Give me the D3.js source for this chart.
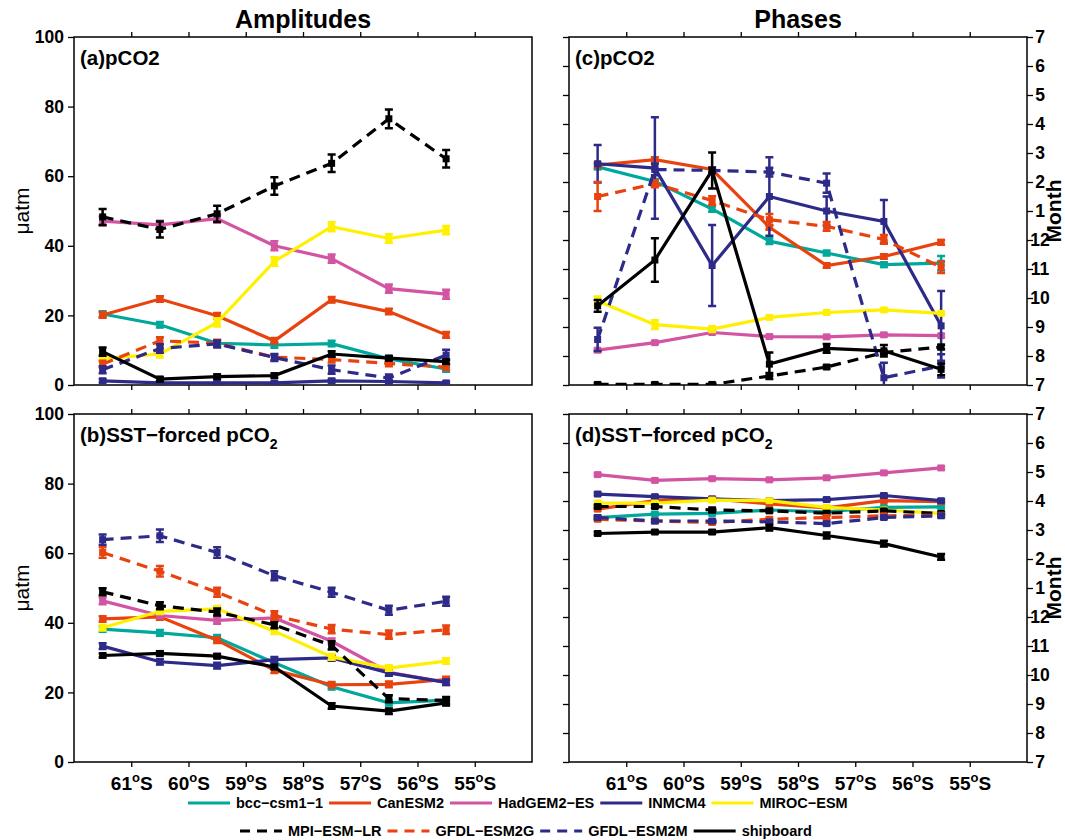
<!DOCTYPE html>
<html>
<head>
<meta charset="utf-8">
<script src="https://cdn.jsdelivr.net/npm/d3@7/dist/d3.min.js"></script>
<style>
  body { margin: 0; background: #fff; }
  svg { font-family: "Liberation Sans", Arial, sans-serif; }
</style>
</head>
<body>
<svg id="chart" width="1065" height="840"></svg>
<script>
// latitude of each band centre (degrees south)
var lats = [61.5, 60.5, 59.5, 58.5, 57.5, 56.5, 55.5];
var latTicks = [61, 60, 59, 58, 57, 56, 55];

var models = ['bcc-csm1-1', 'CanESM2', 'HadGEM2-ES', 'INMCM4', 'MIROC-ESM',
              'MPI-ESM-LR', 'GFDL-ESM2G', 'GFDL-ESM2M', 'shipboard'];
var colors = ['#00a89c', '#e8430f', '#d254a2', '#2d2a88', '#fff000',
              '#000000', '#e8430f', '#2d2a88', '#000000'];
var dashed = [false, false, false, false, false, true, true, true, false];

// (a) amplitude of pCO2, uatm  (rows follow models order)
var ampPco2 = [
  [20.4, 17.3, 12.0, 11.5, 11.9, 7.5, 4.6],
  [20.1, 24.7, 19.9, 12.7, 24.5, 21.1, 14.4],
  [47.1, 46.0, 47.8, 40.0, 36.3, 27.7, 26.1],
  [1.2, 0.6, 0.6, 0.6, 1.2, 1.0, 0.6],
  [7.6, 8.9, 18.0, 35.5, 45.5, 42.1, 44.5],
  [48.3, 44.7, 49.2, 57.2, 63.7, 76.5, 65.0],
  [6.0, 12.7, 12.0, 8.0, 7.3, 6.2, 5.1],
  [4.4, 10.5, 11.8, 7.9, 4.4, 2.0, 8.6],
  [9.6, 1.7, 2.4, 2.7, 8.9, 7.7, 6.7]
];
var ampPco2Err = [
  [0.8, 0.8, 0.8, 0.8, 0.8, 0.8, 0.8],
  [0.8, 0.8, 0.8, 0.8, 0.8, 0.8, 0.8],
  [1.3, 1.2, 1.2, 1.3, 1.2, 1.2, 1.3],
  [0.5, 0.4, 0.4, 0.4, 0.5, 0.4, 0.4],
  [1.0, 1.0, 1.2, 1.2, 1.3, 1.2, 1.2],
  [2.3, 2.3, 2.3, 2.5, 2.5, 2.7, 2.5],
  [1.0, 1.0, 1.0, 0.8, 0.8, 0.8, 0.8],
  [1.0, 1.2, 1.0, 1.0, 1.2, 1.0, 1.5],
  [1.2, 0.6, 0.6, 0.6, 0.8, 0.6, 0.6]
];

// (b) amplitude of SST-forced pCO2, uatm
var ampSst = [
  [38.2, 37.1, 35.7, 28.5, 21.6, 17.0, 17.8],
  [41.1, 41.7, 35.0, 26.4, 22.2, 22.3, 23.7],
  [46.3, 42.1, 40.7, 41.4, 34.7, 25.8, 22.9],
  [33.3, 28.8, 27.7, 29.4, 29.9, 25.6, 22.9],
  [38.6, 43.3, 44.0, 37.6, 30.2, 27.0, 29.0],
  [48.9, 44.9, 43.1, 39.4, 33.5, 18.2, 17.7],
  [60.2, 54.8, 48.8, 42.1, 38.2, 36.6, 38.0],
  [63.9, 65.0, 60.2, 53.5, 48.8, 43.6, 46.2],
  [30.6, 31.2, 30.4, 27.3, 16.1, 14.6, 17.0]
];
var ampSstErr = [
  [0.8, 0.8, 0.8, 0.8, 0.8, 0.8, 0.8],
  [0.8, 0.8, 0.8, 0.8, 0.8, 0.8, 0.8],
  [1.0, 0.8, 1.0, 0.8, 0.8, 0.8, 0.8],
  [0.8, 0.8, 0.8, 0.8, 0.8, 0.8, 0.8],
  [0.8, 0.8, 0.8, 0.8, 0.8, 0.8, 0.8],
  [1.0, 1.0, 1.0, 1.0, 1.2, 1.0, 1.0],
  [1.5, 1.5, 1.3, 1.2, 1.2, 1.2, 1.2],
  [1.5, 1.8, 1.5, 1.3, 1.3, 1.3, 1.3],
  [0.6, 0.6, 0.6, 0.6, 0.8, 0.8, 0.8]
];

// (c) phase of pCO2, month on an axis running Jul(7) .. Jul(19)
var phasePco2 = [
  [14.52, 14.02, 13.07, 11.96, 11.55, 11.15, 11.20],
  [14.58, 14.77, 14.43, 12.44, 11.12, 11.43, 11.92],
  [8.20, 8.46, 8.81, 8.67, 8.66, 8.73, 8.70],
  [14.63, 14.48, 11.12, 13.50, 13.00, 12.64, 9.04],
  [9.90, 9.08, 8.93, 9.33, 9.50, 9.59, 9.47],
  [7.02, 7.02, 7.02, 7.31, 7.62, 8.12, 8.31],
  [13.50, 13.94, 13.36, 12.70, 12.47, 12.02, 11.06],
  [8.57, 14.43, 14.40, 14.34, 13.96, 7.25, 7.66],
  [9.73, 11.31, 14.40, 7.72, 8.26, 8.18, 7.54]
];
var phasePco2Err = [
  [0.08, 0.08, 0.10, 0.10, 0.08, 0.08, 0.25],
  [0.08, 0.08, 0.08, 0.08, 0.08, 0.08, 0.08],
  [0.05, 0.05, 0.05, 0.05, 0.05, 0.05, 0.05],
  [0.65, 1.75, 1.40, 1.35, 0.50, 0.74, 1.20],
  [0.15, 0.15, 0.10, 0.05, 0.05, 0.05, 0.05],
  [0.05, 0.05, 0.05, 0.10, 0.05, 0.05, 0.08],
  [0.50, 0.12, 0.15, 0.20, 0.15, 0.15, 0.20],
  [0.40, 0.20, 0.10, 0.15, 0.33, 0.52, 0.40],
  [0.20, 0.75, 0.62, 0.40, 0.15, 0.20, 0.20]
];

// (d) phase of SST-forced pCO2
var phaseSst = [
  [15.43, 15.55, 15.57, 15.69, 15.63, 15.78, 15.80],
  [15.72, 16.01, 16.07, 15.90, 15.76, 16.01, 15.98],
  [16.91, 16.71, 16.77, 16.73, 16.80, 16.97, 17.14],
  [16.24, 16.15, 16.07, 16.01, 16.05, 16.19, 16.01],
  [15.93, 15.93, 16.03, 16.01, 15.78, 15.69, 15.57],
  [15.81, 15.81, 15.69, 15.66, 15.58, 15.66, 15.57],
  [15.37, 15.31, 15.26, 15.37, 15.43, 15.49, 15.51],
  [15.43, 15.31, 15.31, 15.28, 15.22, 15.43, 15.49],
  [14.88, 14.93, 14.93, 15.08, 14.81, 14.53, 14.07]
];
var phaseSstErr = [
  [0.05, 0.05, 0.05, 0.05, 0.05, 0.05, 0.05],
  [0.05, 0.05, 0.05, 0.05, 0.05, 0.05, 0.05],
  [0.05, 0.05, 0.05, 0.05, 0.05, 0.05, 0.05],
  [0.05, 0.05, 0.05, 0.05, 0.05, 0.05, 0.05],
  [0.05, 0.05, 0.05, 0.05, 0.05, 0.05, 0.05],
  [0.05, 0.05, 0.08, 0.05, 0.05, 0.05, 0.05],
  [0.05, 0.05, 0.05, 0.05, 0.08, 0.05, 0.05],
  [0.05, 0.05, 0.05, 0.05, 0.05, 0.05, 0.05],
  [0.05, 0.05, 0.06, 0.10, 0.10, 0.10, 0.10]
];

var ampTicks = [0, 20, 40, 60, 80, 100];
var monthTicks = d3.range(7, 20);

var svg = d3.select('#chart');
var pw = 458, ph = 348;

var x = d3.scaleLinear().domain([62, 54]).range([0, pw]);
var yAmp = d3.scaleLinear().domain([0, 100]).range([ph, 0]);
var yPh = d3.scaleLinear().domain([7, 19]).range([ph, 0]);

var panels = [
  {id: 'a', left: 74, top: 37, vals: ampPco2, errs: ampPco2Err, y: yAmp, kind: 'amp', bottom: false, label: '(a)pCO2', sub: false},
  {id: 'b', left: 74, top: 414, vals: ampSst, errs: ampSstErr, y: yAmp, kind: 'amp', bottom: true, label: '(b)SST\u2212forced pCO', sub: true},
  {id: 'c', left: 569, top: 37, vals: phasePco2, errs: phasePco2Err, y: yPh, kind: 'ph', bottom: false, label: '(c)pCO2', sub: false},
  {id: 'd', left: 569, top: 414, vals: phaseSst, errs: phaseSstErr, y: yPh, kind: 'ph', bottom: true, label: '(d)SST\u2212forced pCO', sub: true}
];

var line = function(y) {
  return d3.line().x(function(d) { return x(d.lat); }).y(function(d) { return y(d.v); });
};

panels.forEach(function(p) {
  var g = svg.append('g').attr('transform', 'translate(' + p.left + ',' + p.top + ')');

  g.append('clipPath').attr('id', 'clip' + p.id)
    .append('rect').attr('x', 0).attr('y', 0).attr('width', pw).attr('height', ph);

  // axes
  var topAxis = d3.axisTop(x).tickValues(latTicks).tickSize(5).tickFormat('');
  g.append('g').attr('class', 'xtop').call(topAxis);

  var botAxis = d3.axisBottom(x).tickValues(latTicks).tickSize(5).tickPadding(10)
    .tickFormat(p.bottom ? function(d) { return d; } : '');
  var bx = g.append('g').attr('class', 'xbot').attr('transform', 'translate(0,' + ph + ')').call(botAxis);

  if (p.kind === 'amp') {
    g.append('g').attr('class', 'yleft')
      .call(d3.axisLeft(p.y).tickValues(ampTicks).tickSize(6).tickPadding(4));
  } else {
    g.append('g').attr('class', 'yleft')
      .call(d3.axisLeft(p.y).tickValues(monthTicks).tickSize(6).tickFormat(''));
    var ry = g.append('g').attr('class', 'yright').attr('transform', 'translate(' + pw + ',0)')
      .call(d3.axisRight(p.y).tickValues(monthTicks).tickSize(6).tickPadding(2)
        .tickFormat(function(d) { return ((d - 1) % 12) + 1; }));
    ry.selectAll('.tick text').attr('text-anchor', 'middle').attr('x', 13);
  }

  g.selectAll('.domain').remove();
  g.selectAll('.tick line').attr('stroke', '#000').attr('stroke-width', 1.3);
  g.selectAll('.tick text').attr('font-size', 17.5).attr('font-weight', 'bold').attr('fill', '#000')
    .attr('font-family', '"Liberation Sans", Arial, sans-serif');

  if (p.bottom) {
    bx.selectAll('.tick text').attr('font-size', 19).each(function(d) {
      var t = d3.select(this).text('');
      t.append('tspan').text(d);
      t.append('tspan').attr('dy', -8).attr('font-size', 13).text('o');
      t.append('tspan').attr('dy', 8).text('S');
    });
  }

  g.append('rect').attr('width', pw).attr('height', ph)
    .attr('fill', 'none').attr('stroke', '#000').attr('stroke-width', 1.5);

  // series
  var plot = g.append('g').attr('clip-path', 'url(#clip' + p.id + ')');
  models.forEach(function(m, i) {
    var pts = lats.map(function(lat, j) { return {lat: lat, v: p.vals[i][j], e: p.errs[i][j]}; });
    var sg = plot.append('g').attr('class', 'series');
    sg.append('path').datum(pts)
      .attr('d', line(p.y))
      .attr('fill', 'none')
      .attr('stroke', colors[i])
      .attr('stroke-width', 3.2)
      .attr('stroke-dasharray', dashed[i] ? '11,7' : null);

    sg.selectAll('.err').data(pts).enter().append('path')
      .attr('class', 'err')
      .attr('d', function(d) {
        var cx = x(d.lat), y1 = p.y(d.v + d.e), y2 = p.y(d.v - d.e);
        return 'M' + (cx - 4) + ',' + y1 + 'H' + (cx + 4) +
               'M' + cx + ',' + y1 + 'V' + y2 +
               'M' + (cx - 4) + ',' + y2 + 'H' + (cx + 4);
      })
      .attr('fill', 'none').attr('stroke', colors[i]).attr('stroke-width', 2.5);

    sg.selectAll('.mk').data(pts).enter().append('rect')
      .attr('class', 'mk')
      .attr('x', function(d) { return x(d.lat) - 3.5; })
      .attr('y', function(d) { return p.y(d.v) - 3.5; })
      .attr('width', 7).attr('height', 7)
      .attr('fill', colors[i]);
  });

  // panel label
  var lab = g.append('text').attr('x', 6).attr('y', 28)
    .attr('font-size', 20.5).attr('font-weight', 'bold');
  lab.append('tspan').text(p.label);
  if (p.sub) {
    lab.append('tspan').attr('dy', 7).attr('font-size', 14).text('2');
  }
});

// column titles
svg.append('text').attr('x', 303).attr('y', 28).attr('text-anchor', 'middle')
  .attr('font-size', 25).attr('font-weight', 'bold').text('Amplitudes');
svg.append('text').attr('x', 798).attr('y', 28).attr('text-anchor', 'middle')
  .attr('font-size', 25).attr('font-weight', 'bold').text('Phases');

// axis titles
[211, 588].forEach(function(cy) {
  svg.append('text').attr('transform', 'translate(29,' + cy + ') rotate(-90)')
    .attr('text-anchor', 'middle').attr('font-size', 21).text('\u03bcatm');
  svg.append('text').attr('transform', 'translate(1061,' + cy + ') rotate(-90)')
    .attr('text-anchor', 'middle').attr('font-size', 21).attr('font-weight', 'bold').text('Month');
});

// legend
var legendRows = [
  {y: 803, start: 188, items: [0, 1, 2, 3, 4]},
  {y: 831, start: 240, items: [5, 6, 7, 8]}
];
legendRows.forEach(function(r) {
  var cx = r.start;
  r.items.forEach(function(i) {
    svg.append('line').attr('x1', cx).attr('x2', cx + 42).attr('y1', r.y).attr('y2', r.y)
      .attr('stroke', colors[i]).attr('stroke-width', 3)
      .attr('stroke-dasharray', dashed[i] ? '10,7' : null);
    var t = svg.append('text').attr('x', cx + 48).attr('y', r.y + 5)
      .attr('font-size', 14.5).attr('font-weight', 'bold')
      .text(models[i].replace(/-/g, '\u2212'));
    cx += 48 + t.node().getComputedTextLength() + 6;
  });
});
</script>
</body>
</html>
